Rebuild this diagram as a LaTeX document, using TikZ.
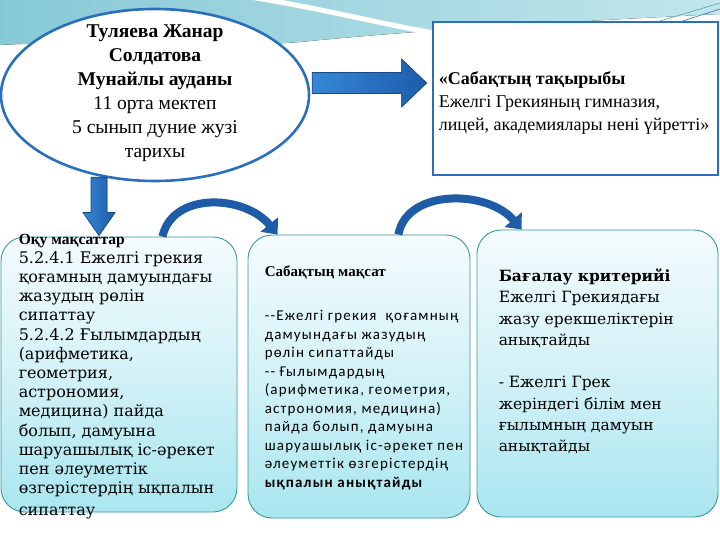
\documentclass[tikz,border=0pt]{standalone}
\usepackage{fontspec}
\setmainfont{Liberation Serif}
\newfontfamily\wideserif{DejaVu Serif}
\newfontfamily\lightsans[LetterSpace=8]{Carlito}
\usepackage{tikz}
\usetikzlibrary{positioning,shapes,arrows.meta,calc}

\definecolor{bandteal}{HTML}{86C9D6}
\definecolor{bandlight}{HTML}{C2E6EC}
\definecolor{ovalblue}{HTML}{2A6FBF}
\definecolor{arrowblue}{HTML}{1E5CA8}
\definecolor{arrowlight}{HTML}{3587D8}
\definecolor{boxedge}{HTML}{3A979B}
\definecolor{boxtop}{HTML}{F4FBFD}
\definecolor{boxbottom}{HTML}{A9E6EF}

\tikzset{
  infobox/.style={draw=boxedge, line width=0.9pt, rounded corners=24pt,
    top color=boxtop, bottom color=boxbottom, middle color=boxtop!55!boxbottom, inner sep=0pt},
  blockarrow/.style={draw=arrowblue!80!black, line width=0.7pt, left color=arrowlight, right color=arrowblue},
  bendarrow/.style={draw=arrowblue, line width=8pt, -{Triangle[length=13pt,width=22pt]}},
  boxtext/.style={anchor=north west, align=left, inner sep=0pt},
}

\begin{document}
\begin{tikzpicture}[x=1pt, y=-1pt]
        \useasboundingbox (0,0) rectangle (720,540);
        % Background
        \fill[white] (0,0) rectangle (720,540);
        \fill[left color=bandteal, right color=bandlight] (0,0) -- (720,0) -- (720,14)
            .. controls (560,22) and (420,30) .. (300,42) .. controls (200,50) and (80,40) .. (0,45) -- cycle;
        \draw[white, line width=5pt] (250,-3) .. controls (330,10) and (380,24) .. (440,34);
        \draw[teal!70, line width=0.6pt] (720,3) -- (640,27);
        \draw[ovalblue, line width=0.6pt] (720,9) -- (655,30);

        % Shapes
        \node[ellipse, draw=ovalblue, line width=2.6pt, fill=white, minimum width=308pt, minimum height=172pt] (teacher) at (155,95) {};
        \node[rectangle, draw=ovalblue, line width=2.8pt, fill=white, minimum width=285pt, minimum height=153pt] (topic) at (575.5,98.5) {};
        \node[infobox, minimum width=236pt, minimum height=275pt] (goals) at (119,374.5) {};
        \node[infobox, minimum width=222pt, minimum height=283pt] (aim) at (359,376.5) {};
        \node[infobox, minimum width=241pt, minimum height=287pt] (criteria) at (597.5,373.5) {};

        % Block arrows
        \coordinate (ra) at ($(teacher.east)+(2,-12)$);
        \coordinate (rb) at ($(topic.west)+(-5,-15.5)$);
        \fill[blockarrow] ($(ra)+(0,-10.5)$) -- ($(rb)+(-25,-10.5)$) -- ($(rb)+(-25,-24)$) -- (rb)
            -- ($(rb)+(-25,24)$) -- ($(rb)+(-25,10.5)$) -- ($(ra)+(0,10.5)$) -- cycle;
        \coordinate (da) at ($(teacher.south)+(-56,-5)$);
        \coordinate (db) at ($(goals.north)+(-20,-1)$);
        \fill[blockarrow] ($(da)+(-8,0)$) -- ($(db)+(-8,-23)$) -- ($(db)+(-16,-23)$) -- (db)
            -- ($(db)+(16,-23)$) -- ($(db)+(8,-23)$) -- ($(da)+(8,0)$) -- cycle;

        % Bent arrows
        \coordinate (c1s) at ($(goals.north east)+(-75,0)$);
        \coordinate (c1e) at ($(aim.north west)+(30,0)$);
        \draw[bendarrow] (c1s) .. controls +(10,-45) and +(-33,-40) .. (c1e);
        \coordinate (c2s) at ($(aim.north east)+(-72,0)$);
        \coordinate (c2e) at ($(criteria.north west)+(45,0)$);
        \draw[bendarrow] (c2s) .. controls +(8,-46) and +(-34,-40) .. (c2e);

        % Texts
        \node[align=center, inner sep=0pt, font=\fontsize{19.5}{24}\selectfont] (teachertext) at ($(teacher.center)+(0,-2)$)
            {\textbf{Туляева Жанар}\\ \textbf{Солдатова}\\ \textbf{Мунайлы ауданы}\\ 11 орта мектеп\\ 5 сынып дуние жузі\\ тарихы};
        \node[anchor=west, align=left, inner sep=0pt, font=\fontsize{18}{23}\selectfont] (topictext) at ($(topic.west)+(7,4)$)
            {\textbf{«Сабақтың тақырыбы}\\ Ежелгі Грекияның гимназия,\\ лицей, академиялары нені үйретті»};
        \node[boxtext, font=\wideserif\fontsize{16}{19.2}\selectfont] (goalstext) at ($(goals.north west)+(18,-3)$)
            {{\rmfamily\bfseries\fontsize{15.5}{18}\selectfont Оқу мақсаттар}\\[0pt]
             5.2.4.1 Ежелгі грекия\\ қоғамның дамуындағы\\ жазудың рөлін\\ сипаттау\\
             5.2.4.2 Ғылымдардың\\ (арифметика,\\ геометрия,\\ астрономия,\\ медицина) пайда\\
             болып, дамуына\\ шаруашылық іс-әрекет\\ пен әлеуметтік\\ өзгерістердің ықпалын\\[3pt] сипаттау};
        \node[boxtext, font=\lightsans\fontsize{15}{18.5}\selectfont] (aimtext) at ($(aim.north west)+(17,31)$)
            {{\rmfamily\bfseries\fontsize{15}{18.5}\selectfont Сабақтың мақсат}\\[26pt]
             --Ежелгі грекия \ қоғамның\\ дамуындағы жазудың\\ рөлін сипаттайды\\ -- Ғылымдардың\\
             (арифметика, геометрия,\\ астрономия, медицина)\\ пайда болып, дамуына\\
             шаруашылық іс-әрекет пен\\ әлеуметтік өзгерістердің\\ \textbf{ықпалын анықтайды}};
        \node[boxtext, font=\wideserif\fontsize{15.5}{21.3}\selectfont] (criteriatext) at ($(criteria.north west)+(22,39)$)
            {\textbf{Бағалау критерийі}\\ Ежелгі Грекиядағы\\ жазу ерекшеліктерін\\ анықтайды\\[21.3pt]
             - Ежелгі Грек\\ жеріндегі білім мен\\ ғылымның дамуын\\ анықтайды};
\end{tikzpicture}
\end{document}
